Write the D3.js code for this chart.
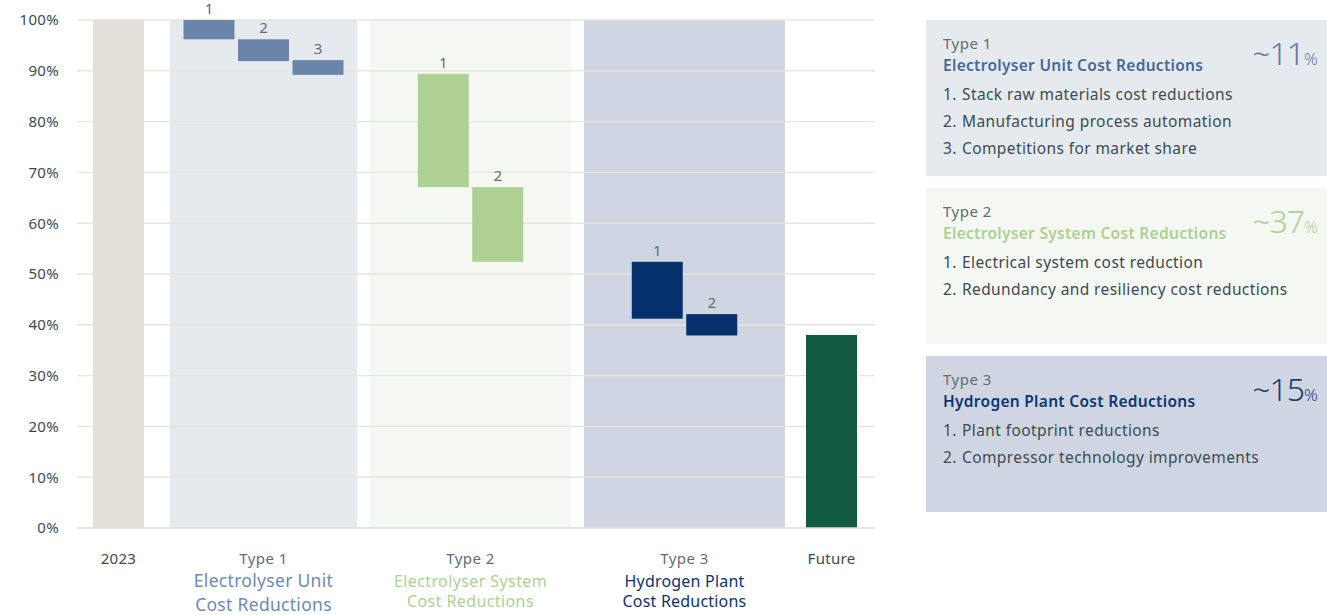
<!DOCTYPE html>
<html>
<head>
<meta charset="utf-8">
<script src="https://cdn.jsdelivr.net/npm/d3@7"></script>
<style>
  body { margin: 0; background: #fff; }
  svg text { font-family: "Noto Sans", sans-serif; }
</style>
</head>
<body>
<svg id="chart" width="1327" height="615"></svg>
<script>
// ---- Data: electrolyser cost, % of the 2023 level ----
const categories = ["2023", "Type 1", "Type 2", "Type 3", "Future"];
const startLevel = 100;
const futureLevel = 38;
const type1From = [100, 96.2, 92.1];
const type1To   = [96.2, 91.9, 89.2];
const type2From = [89.4, 67.1];
const type2To   = [67.1, 52.4];
const type3From = [52.4, 42.1];
const type3To   = [41.2, 37.9];
const yTicks = [0, 10, 20, 30, 40, 50, 60, 70, 80, 90, 100];

const groupSubtitles = [
  ["Electrolyser Unit", "Cost Reductions"],
  ["Electrolyser System", "Cost Reductions"],
  ["Hydrogen Plant", "Cost Reductions"]
];
const legendTypes  = ["Type 1", "Type 2", "Type 3"];
const legendTitles = ["Electrolyser Unit Cost Reductions", "Electrolyser System Cost Reductions", "Hydrogen Plant Cost Reductions"];
const legendShares = ["~11", "~37", "~15"];
const legendItems1 = ["Stack raw materials cost reductions", "Manufacturing process automation", "Competitions for market share"];
const legendItems2 = ["Electrical system cost reduction", "Redundancy and resiliency cost reductions"];
const legendItems3 = ["Plant footprint reductions", "Compressor technology improvements"];

// ---- Styling ----
const groupStyle = [
  { bg: "#e5eaef", bar: "#6a84aa", sub: "#7089b0", subSize: 17.5, subLs: 0.3, subGap: 24, title: "#466898", share: "#5d7aa6" },
  { bg: "#f5f7f2", bar: "#acd193", sub: "#acd193", subSize: 16, subLs: 0.4, subGap: 20, title: "#acd193", share: "#acd193" },
  { bg: "#cfd6e2", bar: "#05306b", sub: "#0e336c", subSize: 16, subLs: 0.2, subGap: 20, title: "#0b3573", share: "#1a3d73" }
];
const textDark = "#3d4a52";
const textGrey = "#646c71";
const gridColor = "#e8e5de";

const svg = d3.select("#chart");

// ---- Scales ----
const y = d3.scaleLinear().domain([0, 100]).range([528, 20]);

// Column layout along x: widths and gaps in pixels, mapped through a linear scale
const colWidths = [51, 187, 201, 201, 51];
const colGaps = [26, 13, 13, 21];
const colStart = [];
let acc = 0;
colWidths.forEach((w, i) => { colStart.push(acc); acc += w + (i < colGaps.length ? colGaps[i] : 0); });
const xu = d3.scaleLinear().domain([0, acc]).range([93, 93 + acc]);
const col = categories.map((c, i) => ({ name: c, x0: xu(colStart[i]), x1: xu(colStart[i] + colWidths[i]) }));

const barW = 51, barStep = 54.5;
function innerBand(n, c) {
  const mid = (c.x0 + c.x1) / 2;
  const w = n * barStep - (barStep - barW);
  return d3.scaleBand().domain(d3.range(n)).range([mid - w / 2, mid + w / 2])
    .paddingInner((barStep - barW) / barStep).paddingOuter(0);
}

const groups = [
  { from: type1From, to: type1To, col: col[1] },
  { from: type2From, to: type2To, col: col[2] },
  { from: type3From, to: type3To, col: col[3] }
];

// ---- Group backgrounds ----
groups.forEach((g, gi) => {
  svg.append("rect")
    .attr("x", g.col.x0).attr("width", g.col.x1 - g.col.x0)
    .attr("y", y(100)).attr("height", y(0) - y(100))
    .attr("fill", groupStyle[gi].bg);
});

// ---- Gridlines ----
svg.append("g").selectAll("line").data(yTicks).join("line")
  .attr("x1", 77).attr("x2", 875)
  .attr("y1", d => y(d)).attr("y2", d => y(d))
  .attr("stroke", gridColor).attr("stroke-width", 1.4);

// ---- Y axis labels ----
const yAxis = d3.axisLeft(y).tickValues(yTicks).tickFormat(d => d + "%").tickSize(0).tickPadding(0);
const yg = svg.append("g").attr("transform", "translate(59,0)").call(yAxis);
yg.select(".domain").remove();
yg.selectAll("text").attr("font-size", 15).attr("letter-spacing", 0.3).attr("fill", textDark).attr("font-family", "Noto Sans, sans-serif");

// ---- Total bars ----
svg.append("rect")
  .attr("x", col[0].x0).attr("width", col[0].x1 - col[0].x0)
  .attr("y", y(startLevel)).attr("height", y(0) - y(startLevel))
  .attr("fill", "#e3e0d9");
svg.append("rect")
  .attr("x", col[4].x0).attr("width", col[4].x1 - col[4].x0)
  .attr("y", y(futureLevel)).attr("height", y(0) - y(futureLevel))
  .attr("fill", "#125a40");

// ---- Step bars with numbers ----
groups.forEach((g, gi) => {
  const xb = innerBand(g.from.length, g.col);
  const steps = g.from.map((f, i) => ({ i, from: f, to: g.to[i] }));
  const gg = svg.append("g");
  gg.selectAll("rect").data(steps).join("rect")
    .attr("x", d => xb(d.i)).attr("width", xb.bandwidth())
    .attr("y", d => y(d.from)).attr("height", d => y(d.to) - y(d.from))
    .attr("fill", groupStyle[gi].bar);
  gg.selectAll("text").data(steps).join("text")
    .attr("x", d => xb(d.i) + xb.bandwidth() / 2)
    .attr("y", d => y(d.from) - 6)
    .attr("text-anchor", "middle").attr("font-size", 15).attr("fill", textGrey)
    .text(d => d.i + 1);
});

// ---- X axis labels ----
svg.append("line").attr("x1", 77).attr("x2", 875).attr("y1", y(0)).attr("y2", y(0))
  .attr("stroke", "#e3e0d9").attr("stroke-width", 1.5);

[0, 4].forEach(ci => {
  svg.append("text").attr("x", (col[ci].x0 + col[ci].x1) / 2).attr("y", 564)
    .attr("text-anchor", "middle").attr("font-size", 15).attr("letter-spacing", 0.3).attr("fill", textDark)
    .text(categories[ci]);
});
groups.forEach((g, gi) => {
  const cx = (g.col.x0 + g.col.x1) / 2;
  const st = groupStyle[gi];
  svg.append("text").attr("x", cx).attr("y", 564)
    .attr("text-anchor", "middle").attr("font-size", 15).attr("letter-spacing", 0.4).attr("fill", textGrey)
    .text(categories[gi + 1]);
  groupSubtitles[gi].forEach((line, li) => {
    svg.append("text").attr("x", cx).attr("y", 587 + li * st.subGap)
      .attr("text-anchor", "middle").attr("font-size", st.subSize).attr("letter-spacing", st.subLs).attr("fill", st.sub)
      .text(line);
  });
});

// ---- Legend panels ----
const legendItems = [legendItems1, legendItems2, legendItems3];
const boxX = 926, boxW = 401, boxH = 156, boxGap = 12, boxTop = 20;
legendTypes.forEach((t, i) => {
  const top = boxTop + i * (boxH + boxGap);
  const st = groupStyle[i];
  const lg = svg.append("g");
  lg.append("rect").attr("x", boxX).attr("y", top).attr("width", boxW).attr("height", boxH).attr("fill", st.bg);
  lg.append("text").attr("x", 943).attr("y", top + 29)
    .attr("font-size", 15).attr("letter-spacing", 0.5).attr("fill", textGrey).text(t);
  lg.append("text").attr("x", 943).attr("y", top + 51)
    .attr("font-size", 15.5).attr("letter-spacing", 0.3).attr("font-weight", 600).attr("fill", st.title).text(legendTitles[i]);
  const items = lg.selectAll("text.item").data(legendItems[i]).join("text").attr("class", "item")
    .attr("y", (d, k) => top + 80 + k * 27)
    .attr("font-size", 15.5).attr("letter-spacing", 0.4).attr("fill", textDark);
  items.append("tspan").attr("x", 943).text((d, k) => (k + 1) + ".");
  items.append("tspan").attr("x", 962).text(d => d);
  const share = lg.append("text").attr("x", 1285).attr("y", top + 45)
    .attr("text-anchor", "middle").attr("fill", st.share);
  share.append("tspan").attr("font-size", 32).attr("font-weight", 300).attr("letter-spacing", -1).text(legendShares[i]);
  share.append("tspan").attr("font-size", 17).attr("font-weight", 300).text("%");
});
</script>
</body>
</html>
